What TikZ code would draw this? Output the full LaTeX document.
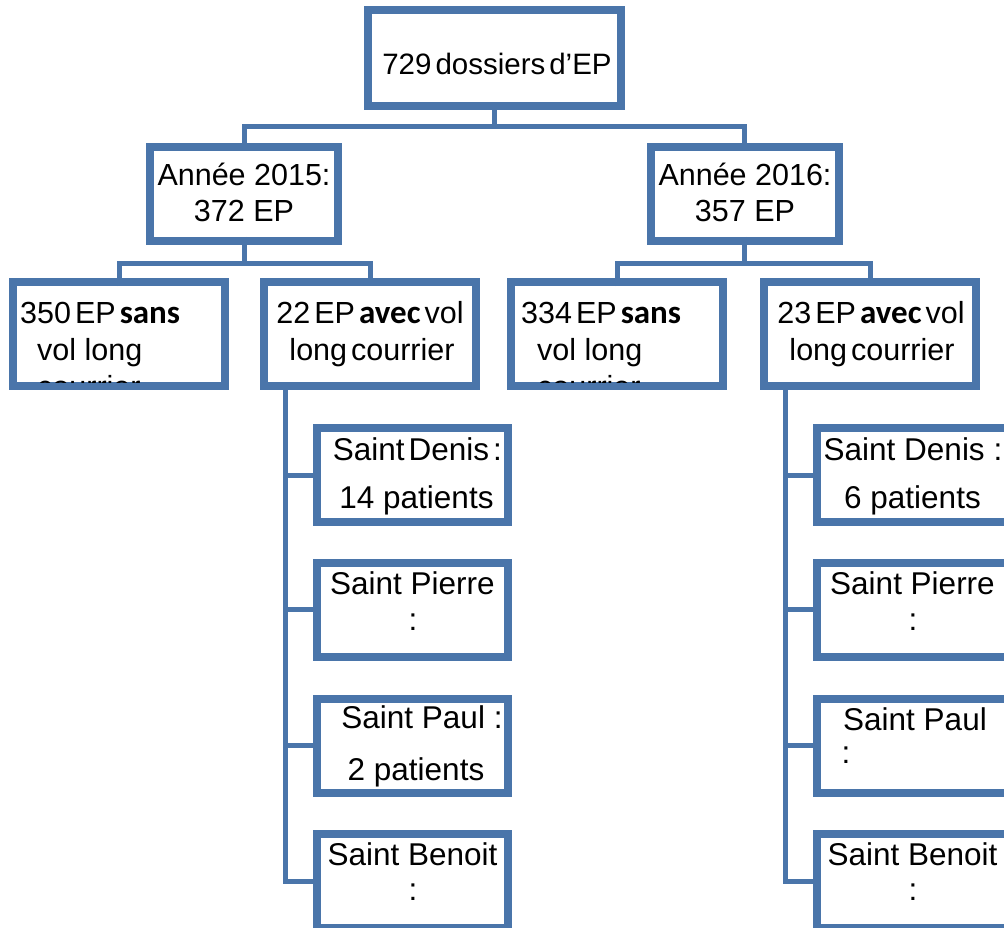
\documentclass[tikz,border=0pt]{standalone}
\usepackage{fontspec}
\setmainfont{Liberation Sans}
\newfontfamily\carlito{Carlito}
\usetikzlibrary{shadows}
\definecolor{boxblue}{RGB}{74,117,170}
\newcommand\tsp{\hspace{4pt}}
\newcommand\bw[1]{{\carlito\bfseries\fontsize{33}{36}\selectfont #1}}
\begin{document}
\begin{tikzpicture}[x=1pt,y=-1pt,
  box/.style={draw=boxblue, line width=8pt, fill=white, rectangle, inner sep=0pt, outer sep=0pt,
    drop shadow={shadow xshift=2pt, shadow yshift=-3pt, fill=black!40, opacity=0.45}},
  rootbox/.style={box, minimum width=253pt, minimum height=96pt},
  yearbox/.style={box, minimum width=188pt, minimum height=94pt},
  lbox/.style={box, minimum width=212pt, minimum height=104pt},
  sbox/.style={box, minimum width=191pt, minimum height=94pt},
  conn/.style={draw=boxblue, line width=5pt, line join=miter},
  txt/.style={anchor=base, inner sep=0pt, font=\fontsize{30.5}{36}\selectfont},
  stxt/.style={txt, font=\fontsize{31.5}{36}\selectfont},
  ltxt/.style={txt, anchor=base west}]
\fill[white] (0,0) rectangle (1004,928);
\useasboundingbox (0,0) rectangle (1004,928);
\clip (0,0) rectangle (1004,928);

\coordinate (pRoot) at (494.5,58.5);
\coordinate (j1) at (494.5,127);
\coordinate (j2) at (244,263);
\coordinate (j3) at (744.5,263);

% boxes
\node[rootbox] (root) at (pRoot) {};
\node[yearbox] (y15) at (244,194) {};
\node[yearbox] (y16) at (744.5,194) {};
\node[lbox] (A) at (119,334) {};
\node[lbox] (B) at (370,334) {};
\node[lbox] (C) at (617,334) {};
\node[lbox] (D) at (870,334) {};
\coordinate (spineL) at ([xshift=-85pt]B.south);
\coordinate (spineR) at ([xshift=-85pt]D.south);
\node[sbox] (dL) at (412.5,475) {};
\node[sbox] (pL) at (412.5,609.5) {};
\node[sbox] (aL) at (412.5,745.5) {};
\node[sbox] (bL) at (412.5,881) {};
\node[sbox] (dR) at (912.5,475) {};
\node[sbox] (pR) at (912.5,609.5) {};
\node[sbox] (aR) at (912.5,745.5) {};
\node[sbox] (bR) at (912.5,881) {};

% connectors
\draw[conn] ([yshift=4pt]root.south) -- (j1);
\draw[conn] ([yshift=-4pt]y15.north) |- (j1) -| ([yshift=-4pt]y16.north);
\draw[conn] ([yshift=4pt]y15.south) -- (j2);
\draw[conn] ([yshift=-4pt]A.north) |- (j2) -| ([yshift=-4pt]B.north);
\draw[conn] ([yshift=4pt]y16.south) -- (j3);
\draw[conn] ([yshift=-4pt]C.north) |- (j3) -| ([yshift=-4pt]D.north);
\draw[conn] ([yshift=4pt]spineL) |- ([xshift=-4pt]bL.west);
\draw[conn] (spineL |- dL.west) -- ([xshift=-4pt]dL.west);
\draw[conn] (spineL |- pL.west) -- ([xshift=-4pt]pL.west);
\draw[conn] (spineL |- aL.west) -- ([xshift=-4pt]aL.west);
\draw[conn] ([yshift=4pt]spineR) |- ([xshift=-4pt]bR.west);
\draw[conn] (spineR |- dR.west) -- ([xshift=-4pt]dR.west);
\draw[conn] (spineR |- pR.west) -- ([xshift=-4pt]pR.west);
\draw[conn] (spineR |- aR.west) -- ([xshift=-4pt]aR.west);

% texts
\node[txt, font=\fontsize{29.5}{34}\selectfont] (t0) at (497,75) {729\tsp dossiers\tsp d’EP};
\node[txt] (t1) at (244,186) {Année 2015:};
\node[txt] (t2) at (244,222) {372 EP};
\node[txt] (t3) at (745,186) {Année 2016:};
\node[txt] (t4) at (745,222) {357 EP};

\begin{scope}
\clip ([shift={(4pt,-4pt)}]A.north west) rectangle ([shift={(-4pt,4pt)}]A.south east);
\node[ltxt] (tA1) at (20,323) {350\tsp EP\tsp\bw{sans}};
\node[ltxt] (tA2) at (37,360) {vol long};
\node[ltxt] (tA3) at (37,397) {courrier};
\end{scope}
\begin{scope}
\clip ([shift={(4pt,-4pt)}]C.north west) rectangle ([shift={(-4pt,4pt)}]C.south east);
\node[ltxt] (tC1) at (521,323) {334\tsp EP\tsp\bw{sans}};
\node[ltxt] (tC2) at (537,360) {vol long};
\node[ltxt] (tC3) at (537,397) {courrier};
\end{scope}
\node[txt] (tB1) at (370,323) {22\tsp EP\tsp\bw{avec}\tsp vol};
\node[txt] (tB2) at (372,360) {long\tsp courrier};
\node[txt] (tD1) at (871,323) {23\tsp EP\tsp\bw{avec}\tsp vol};
\node[txt] (tD2) at (872,360) {long\tsp courrier};

\node[stxt] (tdL1) at (417.5,460) {Saint\tsp Denis\tsp:};
\node[stxt] (tdL2) at (416.5,508) {14 patients};
\node[stxt] (tpL1) at (412.5,594) {Saint Pierre};
\node[stxt] (tpL2) at (413,630) {:};
\node[stxt] (taL1) at (422,728) {Saint Paul :};
\node[stxt] (taL2) at (416,780) {2 patients};
\node[stxt] (tbL1) at (412.5,865) {Saint Benoit};
\node[stxt] (tbL2) at (413,900) {:};

\node[stxt] (tdR1) at (913,460) {Saint Denis :};
\node[stxt] (tdR2) at (912.5,508) {6 patients};
\node[stxt] (tpR1) at (912.5,594) {Saint Pierre};
\node[stxt] (tpR2) at (913,630) {:};
\node[stxt] (taR1) at (915,730) {Saint Paul};
\node[stxt] (taR2) at (846,763) {:};
\node[stxt] (tbR1) at (912.5,865) {Saint Benoit};
\node[stxt] (tbR2) at (913,900) {:};
\end{tikzpicture}
\end{document}
